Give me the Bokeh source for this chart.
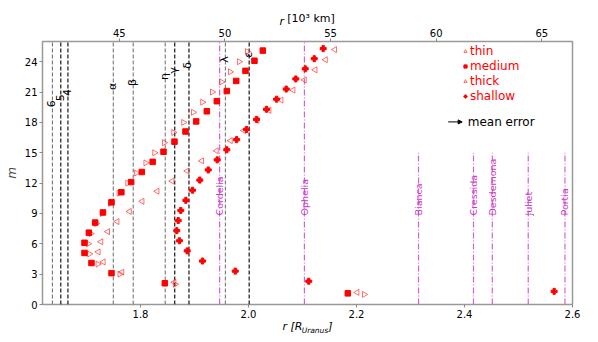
import math
from bokeh.plotting import figure
from bokeh.models import (Range1d, LinearAxis, FixedTicker, PrintfTickFormatter, ColumnDataSource,
                          Label, Legend, LegendItem, Arrow, NormalHead)
from bokeh.core.properties import value
from bokeh.embed import file_html
from bokeh.resources import INLINE

R_URANUS_KM = 25559.0

# resonance order m (y) and radius r in R_Uranus (x) for each series
thin_m = [25, 24, 23, 22, 21, 20, 19, 18, 17, 16, 15, 14, 13, 12, 11, 10, 9, 8, 7, 6, 5, 4, 3, 2, 1]
thin_r = [1.9976, 1.9827, 1.966, 1.950, 1.9328, 1.9148, 1.8976, 1.8796, 1.8611, 1.8439, 1.8259, 1.8096,
          1.7923, 1.776, 1.760, 1.744, 1.729, 1.718, 1.708, 1.7031, 1.7055, 1.7209, 1.7616, 1.8642, 2.2142]

medium_m = [25.1, 24.1, 23.1, 22.1, 21.1, 20.1, 19.1, 18.1, 17.1, 16.1, 15.1, 14.1, 13.1, 12.1, 11.1, 10.1,
            9.1, 8.1, 7.1, 6.1, 5.1, 4.1, 3.1, 2.1, 1.1]
medium_r = [2.0265, 2.011, 1.9944, 1.9772, 1.9598, 1.9413, 1.9228, 1.9031, 1.8833, 1.8629, 1.8426, 1.8225,
            1.8024, 1.7827, 1.7645, 1.7463, 1.7305, 1.716, 1.7043, 1.6963, 1.6963, 1.7092, 1.7463, 1.845, 2.1839]

thick_m = [25.2, 24.2, 23.2, 22.2, 21.2, 20.2, 19.2, 18.2, 17.2, 16.2, 15.2, 14.2, 13.2, 12.2, 11.2, 10.2,
           9.2, 8.2, 7.2, 6.2, 5.2, 4.2, 3.2, 2.2, 1.2]
thick_r = [2.1598, 2.1426, 2.1235, 2.1037, 2.0827, 2.0605, 2.0383, 2.016, 1.9913, 1.9667, 1.9407, 1.9135,
           1.8865, 1.8587, 1.8309, 1.8031, 1.7796, 1.7568, 1.7394, 1.7268, 1.7219, 1.7312, 1.7657, 1.8624, 2.2012]

shallow_m = [25.3, 24.3, 23.3, 22.3, 21.3, 20.3, 19.3, 18.3, 17.3, 16.3, 15.3, 14.3, 13.3, 12.3, 11.3, 10.3,
             9.3, 8.3, 7.3, 6.3, 5.3, 4.3, 3.3, 2.3, 1.3]
shallow_r = [2.1383, 2.1217, 2.105, 2.0876, 2.0698, 2.052, 2.0333, 2.0148, 1.9963, 1.978, 1.9598, 1.942,
             1.9254, 1.9098, 1.8963, 1.884, 1.8746, 1.8698, 1.8672, 1.872, 1.8865, 1.9148, 1.9754, 2.1116, 2.566]

# rings
ring_names = ["6", "5", "4", "α", "β", "η", "γ", "δ", "λ", "ε"]
ring_km = [41837, 42234, 42571, 44718, 45661, 47176, 47627, 48300, 50024, 51149]
ring_label_m = [19.5, 20.1, 20.6, 21.2, 21.6, 22.2, 22.8, 23.3, 23.9, 24.4]
ring_colors = ["#777777", "black", "black", "#777777", "#777777", "#777777", "black", "black", "#777777", "black"]

# moons
moon_names = ["Cordelia", "Ophelia", "Bianca", "Cressida", "Desdemona", "Juliet", "Portia"]
moon_km = [49751, 53764, 59166, 61767, 62658, 64358, 66097]
moon_line_top = [26, 26, 15, 15, 15, 15, 15]
moon_label_m = [8.8, 8.8, 8.8, 8.8, 8.8, 8.8, 8.8]

x_ticks = [1.8, 2.0, 2.2, 2.4, 2.6]
y_ticks = [0, 3, 6, 9, 12, 15, 18, 21, 24]
km_ticks = [45, 50, 55, 60, 65]

X0, X1 = 1.6185, 2.6
Y0, Y1 = 0, 26

FONT = "DejaVu Sans"
MAGENTA = "#c83cc8"

p = figure(width=590, height=340, x_range=Range1d(X0, X1), y_range=Range1d(Y0, Y1),
           output_backend="svg", toolbar_location=None,
           min_border_left=42, min_border_right=18, min_border_top=41, min_border_bottom=36)
p.grid.visible = False
p.outline_line_color = "#999999"
p.outline_line_width = 1.5
p.background_fill_color = "white"
p.border_fill_color = "white"


def plain_axis(ax):
    ax.axis_line_color = None
    ax.major_tick_out = 3
    ax.major_tick_in = 0
    ax.minor_tick_out = 0
    ax.minor_tick_in = 0
    ax.major_tick_line_color = "#888888"
    ax.major_label_standoff = 2
    ax.major_label_text_font = FONT
    ax.major_label_text_font_size = "10px"
    ax.major_label_text_color = "black"


def title_axis(ticks, labels, size, italic, standoff):
    ax = LinearAxis(ticker=FixedTicker(ticks=ticks),
                    major_label_overrides={t: s for t, s in zip(ticks, labels)})
    ax.axis_line_color = None
    ax.major_tick_line_color = None
    ax.major_tick_out = 0
    ax.major_tick_in = 0
    ax.minor_tick_out = 0
    ax.minor_tick_in = 0
    ax.major_label_standoff = standoff
    ax.major_label_text_font = FONT
    ax.major_label_text_font_size = size
    ax.major_label_text_font_style = "italic" if italic else "normal"
    ax.major_label_text_color = "black"
    return ax


# bottom axis (R_Uranus)
plain_axis(p.xaxis[0])
p.xaxis[0].ticker = FixedTicker(ticks=x_ticks)
p.xaxis[0].formatter = PrintfTickFormatter(format="%.1f")

# left axis (m)
plain_axis(p.yaxis[0])
p.yaxis[0].ticker = FixedTicker(ticks=y_ticks)
p.yaxis[0].axis_label = "m"
p.yaxis[0].axis_label_text_font = FONT
p.yaxis[0].axis_label_text_font_style = "italic"
p.yaxis[0].axis_label_text_font_size = "12px"
p.yaxis[0].axis_label_standoff = 3

# top axis (10^3 km), ticks placed at the corresponding radius in R_Uranus
km_r = [k * 1000.0 / R_URANUS_KM for k in km_ticks]
top_axis = LinearAxis(ticker=FixedTicker(ticks=km_r),
                      major_label_overrides={r: str(k) for r, k in zip(km_r, km_ticks)})
plain_axis(top_axis)
p.add_layout(top_axis, "above")

# axis titles built from text-only axes (so that parts can be italic / subscript)
p.add_layout(title_axis([2.0616], ["r"], "11px", True, -2), "above")
p.add_layout(title_axis([2.1157], ["[10³ km]"], "11px", False, -13), "above")
p.add_layout(title_axis([2.0815, 2.1518], ["r [R", "]"], "11px", True, -1), "below")
p.add_layout(title_axis([2.1231], ["Uranus"], "7.5px", True, -10), "below")

# ring lines
ring_r = [k / R_URANUS_KM for k in ring_km]
ring_src = ColumnDataSource(dict(x=ring_r, y0=[Y0] * len(ring_r), y1=[Y1] * len(ring_r),
                                 c=ring_colors, ly=ring_label_m, t=ring_names))
p.segment(x0="x", y0="y0", x1="x", y1="y1", line_color="c", line_width=1.1, line_dash="4 2", source=ring_src)
p.text(x="x", y="ly", text="t", angle=math.pi / 2, text_align="left", text_baseline="alphabetic",
       text_font=value(FONT), text_font_size="11px", text_color="black", x_offset=-1, source=ring_src)

# moon lines
moon_r = [k / R_URANUS_KM for k in moon_km]
moon_src = ColumnDataSource(dict(x=moon_r, y0=[Y0] * len(moon_r), y1=moon_line_top, ly=moon_label_m, t=moon_names))
p.segment(x0="x", y0="y0", x1="x", y1="y1", line_color=MAGENTA, line_alpha=0.8, line_width=1.2,
          line_dash="6 2 1 2", source=moon_src)
p.text(x="x", y="ly", text="t", angle=math.pi / 2, text_align="left", text_baseline="middle",
       text_font=value(FONT), text_font_size="9.5px", text_color=MAGENTA, source=moon_src)

# data
r_thin = p.scatter(thin_r, thin_m, marker="triangle", angle=-math.pi / 2, size=6,
                   fill_color=None, line_color="#ff3030", line_alpha=0.7, line_width=1)
r_medium = p.scatter(medium_r, medium_m, marker="square", size=5.5, fill_color="red", line_color="red")
r_thick = p.scatter(thick_r, thick_m, marker="triangle", angle=math.pi / 2, size=6,
                    fill_color=None, line_color="#ff3030", line_alpha=0.7, line_width=1)
r_shallow = p.scatter(shallow_r, shallow_m, marker="plus", size=6, fill_color="red", line_color="red")

legend = Legend(items=[LegendItem(label="thin", renderers=[r_thin]),
                       LegendItem(label="medium", renderers=[r_medium]),
                       LegendItem(label="thick", renderers=[r_thick]),
                       LegendItem(label="shallow", renderers=[r_shallow])],
                location=(419, 201), orientation="vertical",
                background_fill_alpha=0, border_line_alpha=0,
                label_text_color="red", label_text_font=FONT, label_text_font_size="12px",
                glyph_width=8, glyph_height=12, label_height=12, label_standoff=1,
                spacing=1, padding=0, margin=0)
p.add_layout(legend, "center")

# mean error key
p.add_layout(Arrow(x_start=2.3698, y_start=18.05, x_end=2.3957, y_end=18.05, line_width=1, line_color="black",
                   end=NormalHead(size=4, fill_color="black", line_color="black")))
p.add_layout(Label(x=2.406, y=18.05, text="mean error", text_baseline="middle", text_font=FONT,
                   text_font_size="12px", text_color="black"))

open("out.html", "w").write(file_html(p, INLINE))
